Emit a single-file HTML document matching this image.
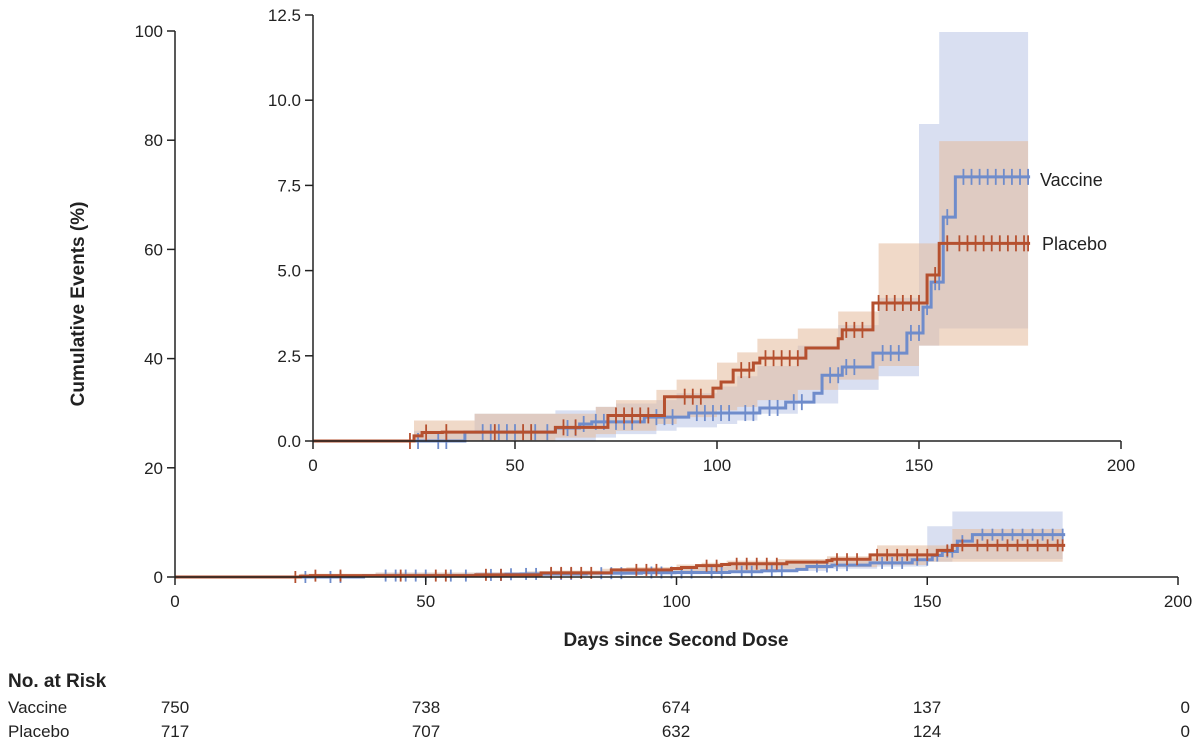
<!DOCTYPE html>
<html><head><meta charset="utf-8"><style>
body{margin:0;background:#fff;}
svg text{font-family:"Liberation Sans",sans-serif;fill:#222;}
</style></head><body>
<svg id="c" width="1200" height="748" viewBox="0 0 1200 748" xmlns="http://www.w3.org/2000/svg"></svg>
<script>
const bandDays=[25,40,55,60,70,75,85,90,100,105,110,120,130,140,150,155,158,177];
const placeboUpper=[0.6,0.8,0.8,0.8,1.0,1.2,1.5,1.8,2.3,2.6,3.0,3.3,3.8,5.8,5.8,8.8,8.8,8.8];
const placeboLower=[0,0,0,0.1,0.2,0.3,0.5,0.7,0.9,1.0,1.2,1.5,1.8,2.2,2.8,2.8,2.8,2.8];
const vaccineUpper=[0.3,0.8,0.8,0.9,1.0,1.1,1.2,1.4,1.6,1.9,2.2,2.8,3.4,4.2,9.3,12.0,12.0,12.0];
const vaccineLower=[0,0,0,0,0.1,0.2,0.3,0.4,0.5,0.6,0.8,1.1,1.5,1.9,2.8,3.3,3.3,3.3];
const placeboDays=[0,25,27,32,60,73,87,99,101,104,109,110.6,122,130,131,138.6,152,155,177.5];
const placeboVals=[0,0.15,0.25,0.26,0.4,0.75,1.3,1.55,1.73,2.08,2.29,2.43,2.73,3.0,3.26,4.05,4.87,5.8,5.8];
const vaccineDays=[0,37.6,60,66,69,82,93,110.6,117,124,126,131,138.6,147,151,153,156,159,177.5];
const vaccineVals=[0,0.26,0.38,0.5,0.56,0.7,0.82,0.97,1.14,1.4,1.93,2.17,2.58,3.17,3.93,4.66,6.57,7.75,7.75];
const placeboCensor=[24,28,33,45,52,54,62,65,75,77,79,81,83,92,94,96,106,108,112,114,116,118,120,132,134,136,140,142,144,146,148,150,154,157,160,162,164,166,168,170,172,174,176,177];
const vaccineCensor=[26,31,33,42,44,46,48,50,55,58,63,65,67,70,72,75,77,79,85,87,89,95,97,99,101,103,107,109,113,115,119,121,128,130,132,134,141,143,145,148,150,152,154,155,157,161,163,165,167,169,171,173,175,177];
const xTicks=[0,50,100,150,200];
const mainYTicks=[0,20,40,60,80,100];
const insetYTicks=[0,2.5,5.0,7.5,10.0,12.5];
const riskGroups=["Vaccine","Placebo"];
const riskVaccine=[750,738,674,137,0];
const riskPlacebo=[717,707,632,124,0];

const svg=document.getElementById('c');
const NS='http://www.w3.org/2000/svg';
function mk(tag,attrs,parent){const e=document.createElementNS(NS,tag);for(const k in attrs)e.setAttribute(k,attrs[k]);(parent||svg).appendChild(e);return e;}
function txt(s,x,y,anchor,size,weight){const t=mk('text',{x:x,y:y,'text-anchor':anchor,'font-size':size});if(weight)t.setAttribute('font-weight',weight);t.textContent=s;return t;}
function stepVal(days,vals,d){let v=vals[0];for(let i=0;i<days.length;i++){if(days[i]<=d)v=vals[i];}return v;}

function drawPanel(name,sx,sy,x0,x1,y0,y1,yTicks,yfmt,tickLen){
  const g=mk('g',{});
  
  
  function band(days,up,lo,fill){
    let top='',bot='';
    for(let i=0;i<days.length-1;i++){top+=`L${sx(days[i])},${sy(up[i])} L${sx(days[i+1])},${sy(up[i])} `;}
    for(let i=days.length-2;i>=0;i--){bot+=`L${sx(days[i+1])},${sy(lo[i])} L${sx(days[i])},${sy(lo[i])} `;}
    return mk('path',{d:'M'+top.slice(1)+bot+'Z',fill:fill,'fill-opacity':0.55},g);
  }
  const bv=band(bandDays,vaccineUpper,vaccineLower,'#b9c4e6');
  
  
  const bp=band(bandDays,placeboUpper,placeboLower,'#e3b99b');
  
  
  function line(days,vals,color,cens,nm){
    let d=`M${sx(days[0])},${sy(vals[0])}`;
    for(let i=1;i<days.length;i++){d+=` L${sx(days[i])},${sy(vals[i-1])} L${sx(days[i])},${sy(vals[i])}`;}
    const p=mk('path',{d:d,fill:'none',stroke:color,'stroke-width':3},g);
    
    
    cens.forEach(c=>{const v=stepVal(days,vals,c);
      const m=mk('line',{x1:sx(c),x2:sx(c),y1:sy(v)-tickLen,y2:sy(v)+tickLen,stroke:color,'stroke-width':1.8},g);
      
      });
  }
  line(vaccineDays,vaccineVals,'#6f8ccb',vaccineCensor,'vaccine');
  line(placeboDays,placeboVals,'#b5502f',placeboCensor,'placebo');
  mk('line',{x1:x0,x2:x0,y1:y1,y2:y0,stroke:'#222','stroke-width':1.5},g);
  mk('line',{x1:x0,x2:x1,y1:y0,y2:y0,stroke:'#222','stroke-width':1.5},g);
  xTicks.forEach(t=>{mk('line',{x1:sx(t),x2:sx(t),y1:y0,y2:y0+8,stroke:'#222','stroke-width':1.5},g);
    const l=txt(String(t),sx(t),y0+30,'middle',17);g.appendChild(l);});
  yTicks.forEach(t=>{mk('line',{x1:x0-8,x2:x0,y1:sy(t),y2:sy(t),stroke:'#222','stroke-width':1.5},g);
    const l=txt(yfmt(t),x0-12,sy(t)+6,'end',17);g.appendChild(l);});
  return g;
}
drawPanel('main-plot',d=>175+d*5.015,v=>577-v*5.46,175,1178,577,31,mainYTicks,t=>String(t),6);
drawPanel('inset-plot',d=>313+d*4.04,v=>441-v*34.08,313,1121,441,15,insetYTicks,t=>t.toFixed(1),8);

let l=txt('Vaccine',1040,186,'start',18);
l=txt('Placebo',1042,250,'start',18);
l=txt('Days since Second Dose',676,646,'middle',19,'bold');
l=txt('Cumulative Events (%)',0,0,'middle',19,'bold');l.setAttribute('transform','translate(84,304) rotate(-90)');


l=txt('No. at Risk',8,687,'start',19,'bold');
const riskX=[175,426,676,927,1190];
[riskVaccine,riskPlacebo].forEach((row,r)=>{
  const y=713+r*24;
  const g=txt(riskGroups[r],8,y,'start',17);
  row.forEach((n,i)=>{const t=txt(String(n),riskX[i],y,i===4?'end':'middle',17);
    
    });
});
</script>
</body></html>
